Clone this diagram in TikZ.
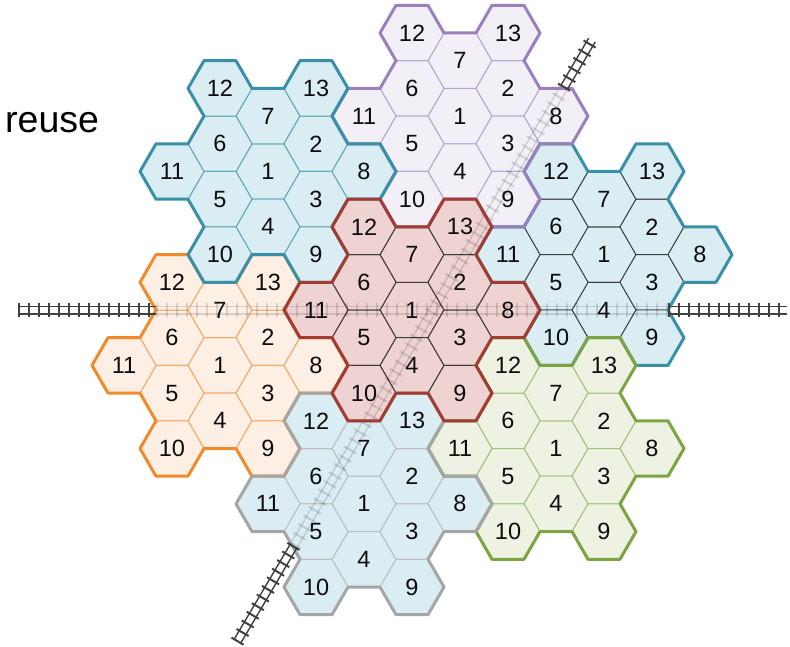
\documentclass[tikz,border=0pt]{standalone}
\usepackage{fontspec}
\setmainfont{Liberation Sans}
\usetikzlibrary{calc}
\definecolor{bluefill}{HTML}{D9EDF2}
\definecolor{tealbord}{HTML}{3A90A8}
\definecolor{tealthin}{HTML}{5FA8BC}
\definecolor{redfill}{HTML}{EFD2D2}
\definecolor{redbord}{HTML}{A23C33}
\definecolor{darkthin}{HTML}{3C3C3C}
\definecolor{purfill}{HTML}{F2EFF6}
\definecolor{purbord}{HTML}{9A80BC}
\definecolor{purthin}{HTML}{B7A5D3}
\definecolor{orfill}{HTML}{FDEFE4}
\definecolor{orbord}{HTML}{F28A2C}
\definecolor{orthin}{HTML}{F5A766}
\definecolor{grfill}{HTML}{EEF2E2}
\definecolor{grbord}{HTML}{7DA443}
\definecolor{grthin}{HTML}{A4C27A}
\definecolor{graybord}{HTML}{A5A5A5}
\definecolor{graythin}{HTML}{BEBEBE}
\definecolor{trackdark}{HTML}{404040}
\tikzset{
  cellnum/.style={font=\fontsize{23.5}{23.5}\selectfont, inner sep=0pt, text=black!95},
  railline/.style={line width=1.4pt, draw=#1},
  tiesline/.style={line width=14pt, dash pattern=on 2pt off 8pt, draw=#1},
  clusterbord/.style={line width=3pt, line join=round, draw=#1},
}
\newcommand\cellsof[5]{% #1 X, #2 Y, #3 fill, #4 inner line, #5 width
  \foreach \dx/\dy in {0/0,0/2,0/-2,-3/1,3/1,-3/-1,3/-1,-3/3,3/3,-6/0,6/0,-3/-3,3/-3}{
    \pgfmathsetmacro\hx{#1+\dx}\pgfmathsetmacro\hy{#2+\dy}
    \draw[fill=#3, draw=#4, line width=#5] ({\hx+2},{\hy}) -- ({\hx+1},{\hy+1}) -- ({\hx-1},{\hy+1})
      -- ({\hx-2},{\hy}) -- ({\hx-1},{\hy-1}) -- ({\hx+1},{\hy-1}) -- cycle;
  }
}
\newcommand\bordof[3]{% #1 X, #2 Y, #3 colour
  \draw[clusterbord=#3, shift={(#1,#2)}]
    (-4,4) -- (-2,4) -- (-1,3) -- (1,3) -- (2,4) -- (4,4) -- (5,3) -- (4,2) -- (5,1) -- (7,1)
    -- (8,0) -- (7,-1) -- (5,-1) -- (4,-2) -- (5,-3) -- (4,-4) -- (2,-4) -- (1,-3) -- (-1,-3)
    -- (-2,-4) -- (-4,-4) -- (-5,-3) -- (-4,-2) -- (-5,-1) -- (-7,-1) -- (-8,0) -- (-7,1)
    -- (-5,1) -- (-4,2) -- (-5,3) -- cycle;
}
\newcommand\labelsof[3]{% #1 name, #2 X, #3 Y
  \foreach \dx/\dy/\lab in {0/0/1,0/2/7,0/-2/4,-3/1/6,3/1/2,-3/-1/5,3/-1/3,-3/3/12,3/3/13,-6/0/11,6/0/8,-3/-3/10,3/-3/9}{
    \node[cellnum] (#1-\lab) at ({#2+\dx},{#3+\dy}) {\lab};
  }
}
\newcommand\railway[3]{% from, to, colour style
  \draw[tiesline=#3] (#1) -- (#2);
  \draw[railline=#3] ($(#1)!3.8pt!90:(#2)$) -- ($(#2)!3.8pt!-90:(#1)$);
  \draw[railline=#3] ($(#1)!3.8pt!-90:(#2)$) -- ($(#2)!3.8pt!90:(#1)$);
}
\begin{document}
\begin{tikzpicture}[x=1pt,y=-1pt]
\useasboundingbox (0,0) rectangle (790,647);
\node[font=\fontsize{37.5}{37.5}\selectfont, inner sep=0pt, anchor=base west] (reuse) at (5,133) {reuse};
\begin{scope}[shift={(412pt,-310pt)}, x=16pt, y=27.7pt]
  \cellsof{12}{2}{bluefill}{darkthin}{0.9pt}
  \cellsof{9}{-5}{grfill}{grthin}{1pt}
  \cellsof{-12}{-2}{orfill}{orthin}{1pt}
  \cellsof{3}{7}{purfill}{purthin}{1pt}
  \cellsof{-9}{5}{bluefill}{tealthin}{1pt}
  \cellsof{-3}{-7}{bluefill}{graythin}{1pt}
  \cellsof{0}{0}{redfill}{darkthin}{1pt}
\end{scope}
% railway coordinates
\coordinate (hL) at (18,310);
\coordinate (hLin) at (156,310);
\coordinate (hRin) at (668,310);
\coordinate (hR) at (787,310);
\coordinate (dA) at (237,642);
\coordinate (dAin) at (293.9,545.5);
\coordinate (dBin) at (563.7,88);
\coordinate (dB) at (592,40);
% faint parts across the cells
\railway{hLin}{hRin}{black!100,draw opacity=0.13}
\railway{dAin}{dBin}{black!100,draw opacity=0.13}
\begin{scope}[shift={(412pt,-310pt)}, x=16pt, y=27.7pt]
  \bordof{12}{2}{tealbord}
  \bordof{9}{-5}{grbord}
  \bordof{-12}{-2}{orbord}
  \bordof{3}{7}{purbord}
  \bordof{-9}{5}{tealbord}
  \bordof{-3}{-7}{graybord}
  \bordof{0}{0}{redbord}
\end{scope}
% dark parts outside the cells
\railway{hL}{hLin}{trackdark}
\railway{hRin}{hR}{trackdark}
\railway{dA}{dAin}{trackdark}
\railway{dBin}{dB}{trackdark}
\begin{scope}[shift={(412pt,-310pt)}, x=16pt, y=27.7pt]
  \labelsof{r}{0}{0}
  \labelsof{tl}{-9}{5}
  \labelsof{p}{3}{7}
  \labelsof{rb}{12}{2}
  \labelsof{g}{9}{-5}
  \labelsof{b}{-3}{-7}
  \labelsof{o}{-12}{-2}
\end{scope}
\end{tikzpicture}
\end{document}
